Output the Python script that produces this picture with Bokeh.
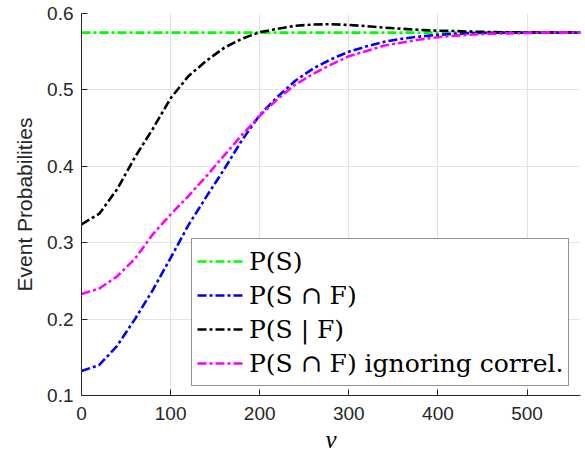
from bokeh.plotting import figure
from bokeh.models import FixedTicker, Legend
from bokeh.embed import file_html
from bokeh.resources import INLINE

v = [0, 20, 40, 60, 80, 100, 120, 140, 160, 180, 200, 220, 240, 260, 280,
     300, 320, 340, 360, 380, 400, 420, 440, 460, 480, 500, 520, 540, 560]

p_s = [0.575] * len(v)

p_s_and_f = [0.132, 0.140, 0.165, 0.200, 0.238, 0.280, 0.323, 0.360, 0.396, 0.434,
             0.467, 0.491, 0.512, 0.528, 0.540, 0.550, 0.557, 0.563, 0.567, 0.570,
             0.572, 0.5735, 0.5743, 0.5747, 0.575, 0.575, 0.575, 0.575, 0.575]

p_s_given_f = [0.324, 0.338, 0.370, 0.412, 0.449, 0.489, 0.518, 0.538, 0.555, 0.567,
               0.5755, 0.580, 0.584, 0.5855, 0.586, 0.585, 0.5835, 0.5815, 0.580, 0.5785,
               0.5775, 0.577, 0.5762, 0.5757, 0.5754, 0.5752, 0.575, 0.575, 0.575]

p_s_and_f_ign = [0.233, 0.240, 0.256, 0.279, 0.311, 0.337, 0.361, 0.387, 0.414, 0.441,
                 0.466, 0.488, 0.507, 0.521, 0.533, 0.544, 0.551, 0.558, 0.562, 0.566,
                 0.569, 0.571, 0.5725, 0.5735, 0.574, 0.5745, 0.575, 0.575, 0.575]

labels = ["P(S)", "P(S ∩ F)", "P(S | F)", "P(S ∩ F) ignoring correl."]
colors = ["#00FF00", "#0000FF", "#000000", "#FF00FF"]
series = [p_s, p_s_and_f, p_s_given_f, p_s_and_f_ign]

x_ticks = [0, 100, 200, 300, 400, 500]
y_ticks = [0.1, 0.2, 0.3, 0.4, 0.5, 0.6]

AX = "#262626"

p = figure(width=585, height=458, x_range=(0, 560), y_range=(0.1, 0.6),
           output_backend="svg", toolbar_location=None,
           min_border_left=81, min_border_right=5, min_border_top=13, min_border_bottom=63)
p.outline_line_color = None
p.background_fill_color = "white"
p.border_fill_color = "white"

renderers = []
for ys, c in zip(series, colors):
    r = p.line(v, ys, line_color=c, line_width=2.6, line_dash="9 3 3 3")
    renderers.append(r)

legend = Legend(items=[(lab, [r]) for lab, r in zip(labels, renderers)],
                location=(110, 9))
legend.label_text_font = "DejaVu Serif"
legend.label_text_font_size = "25px"
legend.label_text_color = "black"
legend.border_line_color = AX
legend.border_line_width = 1.2
legend.background_fill_color = "white"
legend.background_fill_alpha = 1
legend.glyph_width = 47
legend.glyph_height = 34
legend.label_height = 34
legend.label_standoff = 5
legend.spacing = 0
legend.padding = 5
legend.margin = 0
p.add_layout(legend, "center")

for ax in (p.xaxis[0], p.yaxis[0]):
    ax.axis_line_color = AX
    ax.axis_line_width = 1
    ax.major_tick_line_color = AX
    ax.major_tick_in = 6
    ax.major_tick_out = 0
    ax.minor_tick_line_color = None
    ax.major_label_text_color = AX
    ax.major_label_text_font = "Liberation Sans"
    ax.major_label_text_font_size = "19px"

p.xaxis.ticker = FixedTicker(ticks=x_ticks)
p.yaxis.ticker = FixedTicker(ticks=y_ticks)
p.xaxis.major_label_standoff = 11
p.yaxis.major_label_standoff = 8

p.xaxis.axis_label = "v"
p.xaxis.axis_label_text_font = "Liberation Serif"
p.xaxis.axis_label_text_font_style = "italic"
p.xaxis.axis_label_text_font_size = "25px"
p.xaxis.axis_label_text_color = "black"
p.xaxis.axis_label_standoff = 3

p.yaxis.axis_label = "Event Probabilities"
p.yaxis.axis_label_text_font = "Liberation Sans"
p.yaxis.axis_label_text_font_style = "normal"
p.yaxis.axis_label_text_font_size = "21px"
p.yaxis.axis_label_text_color = AX
p.yaxis.axis_label_standoff = 8

p.xgrid.ticker = FixedTicker(ticks=x_ticks)
p.ygrid.ticker = FixedTicker(ticks=y_ticks)
p.grid.grid_line_color = "#e3e3e3"
p.grid.grid_line_width = 1

open("out.html", "w").write(file_html(p, INLINE))
